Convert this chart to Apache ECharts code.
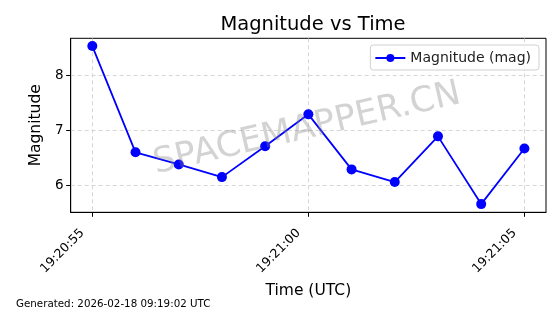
<!DOCTYPE html>
<html>
<head>
<meta charset="utf-8">
<script src="https://cdn.jsdelivr.net/npm/echarts@6/dist/echarts.min.js"></script>
<style>html,body{margin:0;padding:0;background:#fff}#c{width:560px;height:314px}</style>
</head>
<body>
<div id="c"></div>
<script>
const times = ['19:20:55','19:20:56','19:20:57','19:20:58','19:20:59','19:21:00','19:21:01','19:21:02','19:21:03','19:21:04','19:21:05'];
const magnitudes = [8.53, 6.60, 6.38, 6.15, 6.71, 7.29, 6.29, 6.06, 6.89, 5.66, 6.67];
const xTickLabels = ['19:20:55','19:21:00','19:21:05'];
const yTicks = [6, 7, 8];

function toSec(s){const p=s.split(':').map(Number);return p[0]*3600+p[1]*60+p[2];}
function fromSec(v){const h=Math.floor(v/3600),m=Math.floor((v%3600)/60),s=Math.round(v%60);const z=n=>String(n).padStart(2,'0');return z(h)+':'+z(m)+':'+z(s);}
const xs = times.map(toSec);
const xTickVals = xTickLabels.map(toSec);
const data = xs.map((x,i)=>[x, magnitudes[i]]);
const F = 'DejaVu Sans';

const chart = echarts.init(document.getElementById('c'), null, {renderer:'canvas'});
chart.setOption({
  animation:false,
  backgroundColor:'#fff',
  title:{text:'Magnitude vs Time', left:308, top:10, textAlign:'center',
    textStyle:{fontFamily:F, fontSize:19.5, fontWeight:'normal', color:'#000'}},
  grid:{left:70.7, right:14, top:38.3, bottom:101.7, show:true, borderColor:'#000', borderWidth:1, backgroundColor:'transparent'},
  legend:{right:21, top:45, data:['Magnitude (mag)'], itemWidth:30, itemHeight:10, itemGap:10,
    padding:[6,8,5,4], borderColor:'#d0d0d0', borderWidth:1, borderRadius:3, backgroundColor:'rgba(255,255,255,0.8)',
    textStyle:{fontFamily:F, fontSize:14, color:'#222'}},
  xAxis:{type:'value', min:toSec(times[0])-0.5, max:toSec(times[times.length-1])+0.5,
    name:'Time (UTC)', nameLocation:'middle', nameGap:68,
    nameTextStyle:{fontFamily:F, fontSize:15.5, color:'#000'},
    axisLine:{lineStyle:{color:'#000', width:1}},
    axisTick:{show:true, length:4.5, customValues:xTickVals, lineStyle:{color:'#000'}},
    axisLabel:{customValues:xTickVals, rotate:45, margin:9, padding:[0,14,0,0], fontFamily:F, fontSize:12.5, color:'#000', formatter:v=>fromSec(v)},
    splitLine:{show:true, lineStyle:{color:'#cccccc', type:[4,3], width:0.8}}
  },
  yAxis:{type:'value', min:5.511, max:8.671,
    name:'Magnitude', nameLocation:'middle', nameGap:26,
    nameTextStyle:{fontFamily:F, fontSize:15.5, color:'#000'},
    axisLine:{show:true, lineStyle:{color:'#000', width:1}},
    axisTick:{show:true, length:4.5, customValues:yTicks, lineStyle:{color:'#000'}},
    axisLabel:{customValues:yTicks, margin:7, fontFamily:F, fontSize:13.5, color:'#000'},
    splitLine:{show:true, lineStyle:{color:'#cccccc', type:[4,3], width:0.8}}
  },
  graphic:[
    {type:'text', z:100, x:307, y:129, rotation:13*Math.PI/180,
      style:{text:'SPACEMAPPER.CN', fontFamily:F, fontSize:35, fill:'rgba(128,128,128,0.35)', align:'center', verticalAlign:'middle'}},
    {type:'text', left:16, top:299.5, style:{text:'Generated: 2026-02-18 09:19:02 UTC', fontFamily:F, fontSize:10.3, fill:'#000'}}
  ],
  series:[{name:'Magnitude (mag)', type:'line', data:data, symbol:'circle', symbolSize:10,
    lineStyle:{color:'#0000ff', width:1.8}, itemStyle:{color:'#0000ff'}, z:3}]
});
</script>
</body>
</html>
